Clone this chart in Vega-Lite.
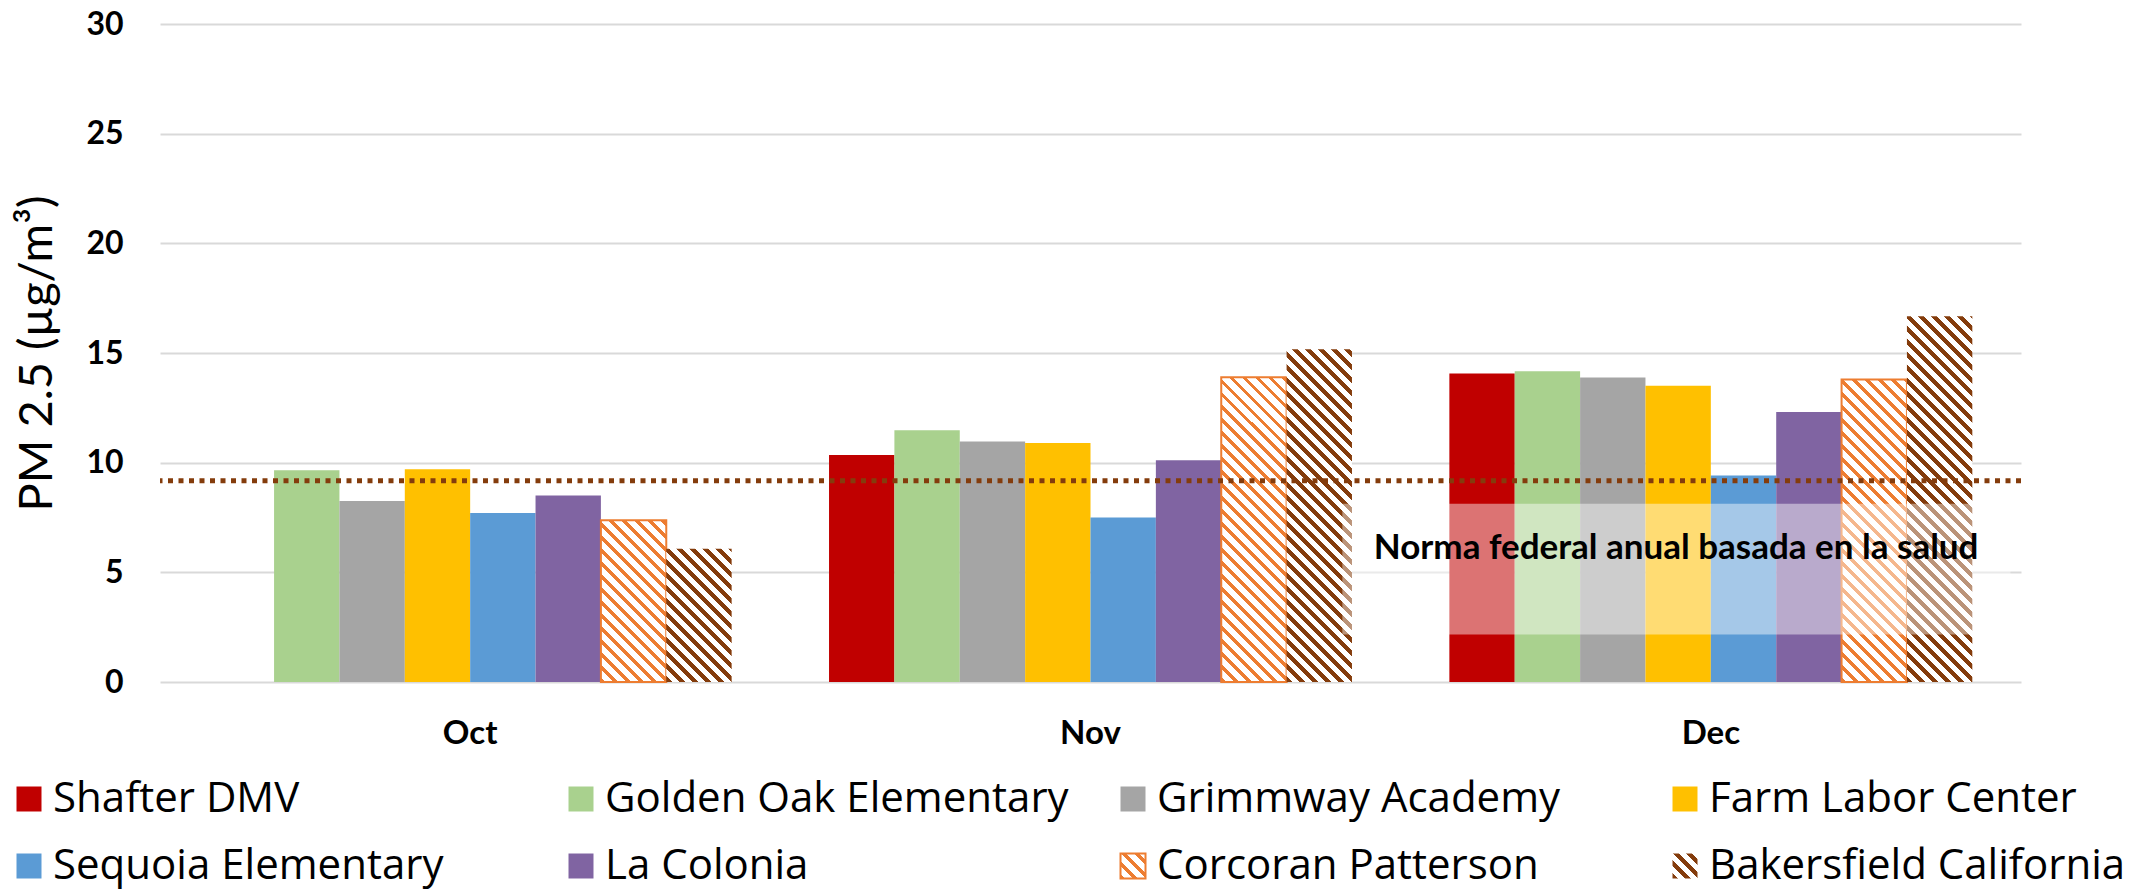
{
  "$schema": "https://vega.github.io/schema/vega-lite/v6.json",
  "width": 1861,
  "height": 658,
  "autosize": {"type": "none"},
  "padding": {"left": 160, "top": 24, "right": 120, "bottom": 209},
  "background": "white",
  "config": {
    "view": {"stroke": null},
    "font": "Lato",
    "legend": {"orient": "none", "legendX": -152, "legendY": 754, "direction": "horizontal", "columns": 4,
      "gridAlign": "all", "columnPadding": 43, "rowPadding": 25, "padding": 0,
      "symbolType": "square", "symbolSize": 625, "symbolStrokeWidth": 2, "symbolOpacity": 1,
      "labelFont": "Open Sans", "labelFontSize": 42, "labelColor": "black", "labelOffset": 3, "labelLimit": 700}
  },
  "params": [
    {"name": "orangeStops", "value": [
      {"offset":0,"color":"#ED7D31"},{"offset":0.01057,"color":"#ED7D31"},{"offset":0.01057,"color":"#fff"},
      {"offset":0.02857,"color":"#fff"},{"offset":0.02857,"color":"#ED7D31"},{"offset":0.03914,"color":"#ED7D31"},{"offset":0.03914,"color":"#fff"},
      {"offset":0.05714,"color":"#fff"},{"offset":0.05714,"color":"#ED7D31"},{"offset":0.06771,"color":"#ED7D31"},{"offset":0.06771,"color":"#fff"},
      {"offset":0.08571,"color":"#fff"},{"offset":0.08571,"color":"#ED7D31"},{"offset":0.09628,"color":"#ED7D31"},{"offset":0.09628,"color":"#fff"},
      {"offset":0.11429,"color":"#fff"},{"offset":0.11429,"color":"#ED7D31"},{"offset":0.12486,"color":"#ED7D31"},{"offset":0.12486,"color":"#fff"},
      {"offset":0.14286,"color":"#fff"},{"offset":0.14286,"color":"#ED7D31"},{"offset":0.15343,"color":"#ED7D31"},{"offset":0.15343,"color":"#fff"},
      {"offset":0.17143,"color":"#fff"},{"offset":0.17143,"color":"#ED7D31"},{"offset":0.182,"color":"#ED7D31"},{"offset":0.182,"color":"#fff"},
      {"offset":0.2,"color":"#fff"},{"offset":0.2,"color":"#ED7D31"},{"offset":0.21057,"color":"#ED7D31"},{"offset":0.21057,"color":"#fff"},
      {"offset":0.22857,"color":"#fff"},{"offset":0.22857,"color":"#ED7D31"},{"offset":0.23914,"color":"#ED7D31"},{"offset":0.23914,"color":"#fff"},
      {"offset":0.25714,"color":"#fff"},{"offset":0.25714,"color":"#ED7D31"},{"offset":0.26771,"color":"#ED7D31"},{"offset":0.26771,"color":"#fff"},
      {"offset":0.28571,"color":"#fff"},{"offset":0.28571,"color":"#ED7D31"},{"offset":0.29628,"color":"#ED7D31"},{"offset":0.29628,"color":"#fff"},
      {"offset":0.31429,"color":"#fff"},{"offset":0.31429,"color":"#ED7D31"},{"offset":0.32486,"color":"#ED7D31"},{"offset":0.32486,"color":"#fff"},
      {"offset":0.34286,"color":"#fff"},{"offset":0.34286,"color":"#ED7D31"},{"offset":0.35343,"color":"#ED7D31"},{"offset":0.35343,"color":"#fff"},
      {"offset":0.37143,"color":"#fff"},{"offset":0.37143,"color":"#ED7D31"},{"offset":0.382,"color":"#ED7D31"},{"offset":0.382,"color":"#fff"},
      {"offset":0.4,"color":"#fff"},{"offset":0.4,"color":"#ED7D31"},{"offset":0.41057,"color":"#ED7D31"},{"offset":0.41057,"color":"#fff"},
      {"offset":0.42857,"color":"#fff"},{"offset":0.42857,"color":"#ED7D31"},{"offset":0.43914,"color":"#ED7D31"},{"offset":0.43914,"color":"#fff"},
      {"offset":0.45714,"color":"#fff"},{"offset":0.45714,"color":"#ED7D31"},{"offset":0.46771,"color":"#ED7D31"},{"offset":0.46771,"color":"#fff"},
      {"offset":0.48571,"color":"#fff"},{"offset":0.48571,"color":"#ED7D31"},{"offset":0.49628,"color":"#ED7D31"},{"offset":0.49628,"color":"#fff"},
      {"offset":0.51429,"color":"#fff"},{"offset":0.51429,"color":"#ED7D31"},{"offset":0.52486,"color":"#ED7D31"},{"offset":0.52486,"color":"#fff"},
      {"offset":0.54286,"color":"#fff"},{"offset":0.54286,"color":"#ED7D31"},{"offset":0.55343,"color":"#ED7D31"},{"offset":0.55343,"color":"#fff"},
      {"offset":0.57143,"color":"#fff"},{"offset":0.57143,"color":"#ED7D31"},{"offset":0.582,"color":"#ED7D31"},{"offset":0.582,"color":"#fff"},
      {"offset":0.6,"color":"#fff"},{"offset":0.6,"color":"#ED7D31"},{"offset":0.61057,"color":"#ED7D31"},{"offset":0.61057,"color":"#fff"},
      {"offset":0.62857,"color":"#fff"},{"offset":0.62857,"color":"#ED7D31"},{"offset":0.63914,"color":"#ED7D31"},{"offset":0.63914,"color":"#fff"},
      {"offset":0.65714,"color":"#fff"},{"offset":0.65714,"color":"#ED7D31"},{"offset":0.66771,"color":"#ED7D31"},{"offset":0.66771,"color":"#fff"},
      {"offset":0.68571,"color":"#fff"},{"offset":0.68571,"color":"#ED7D31"},{"offset":0.69628,"color":"#ED7D31"},{"offset":0.69628,"color":"#fff"},
      {"offset":0.71429,"color":"#fff"},{"offset":0.71429,"color":"#ED7D31"},{"offset":0.72486,"color":"#ED7D31"},{"offset":0.72486,"color":"#fff"},
      {"offset":0.74286,"color":"#fff"},{"offset":0.74286,"color":"#ED7D31"},{"offset":0.75343,"color":"#ED7D31"},{"offset":0.75343,"color":"#fff"},
      {"offset":0.77143,"color":"#fff"},{"offset":0.77143,"color":"#ED7D31"},{"offset":0.782,"color":"#ED7D31"},{"offset":0.782,"color":"#fff"},
      {"offset":0.8,"color":"#fff"},{"offset":0.8,"color":"#ED7D31"},{"offset":0.81057,"color":"#ED7D31"},{"offset":0.81057,"color":"#fff"},
      {"offset":0.82857,"color":"#fff"},{"offset":0.82857,"color":"#ED7D31"},{"offset":0.83914,"color":"#ED7D31"},{"offset":0.83914,"color":"#fff"},
      {"offset":0.85714,"color":"#fff"},{"offset":0.85714,"color":"#ED7D31"},{"offset":0.86771,"color":"#ED7D31"},{"offset":0.86771,"color":"#fff"},
      {"offset":0.88571,"color":"#fff"},{"offset":0.88571,"color":"#ED7D31"},{"offset":0.89628,"color":"#ED7D31"},{"offset":0.89628,"color":"#fff"},
      {"offset":0.91429,"color":"#fff"},{"offset":0.91429,"color":"#ED7D31"},{"offset":0.92486,"color":"#ED7D31"},{"offset":0.92486,"color":"#fff"},
      {"offset":0.94286,"color":"#fff"},{"offset":0.94286,"color":"#ED7D31"},{"offset":0.95343,"color":"#ED7D31"},{"offset":0.95343,"color":"#fff"},
      {"offset":0.97143,"color":"#fff"},{"offset":0.97143,"color":"#ED7D31"},{"offset":0.982,"color":"#ED7D31"},{"offset":0.982,"color":"#fff"}
    ]},
    {"name": "brownStops", "value": [
      {"offset":0,"color":"#843C0C"},{"offset":0.01286,"color":"#843C0C"},{"offset":0.01286,"color":"#fff"},
      {"offset":0.02857,"color":"#fff"},{"offset":0.02857,"color":"#843C0C"},{"offset":0.04143,"color":"#843C0C"},{"offset":0.04143,"color":"#fff"},
      {"offset":0.05714,"color":"#fff"},{"offset":0.05714,"color":"#843C0C"},{"offset":0.07,"color":"#843C0C"},{"offset":0.07,"color":"#fff"},
      {"offset":0.08571,"color":"#fff"},{"offset":0.08571,"color":"#843C0C"},{"offset":0.09857,"color":"#843C0C"},{"offset":0.09857,"color":"#fff"},
      {"offset":0.11429,"color":"#fff"},{"offset":0.11429,"color":"#843C0C"},{"offset":0.12714,"color":"#843C0C"},{"offset":0.12714,"color":"#fff"},
      {"offset":0.14286,"color":"#fff"},{"offset":0.14286,"color":"#843C0C"},{"offset":0.15571,"color":"#843C0C"},{"offset":0.15571,"color":"#fff"},
      {"offset":0.17143,"color":"#fff"},{"offset":0.17143,"color":"#843C0C"},{"offset":0.18429,"color":"#843C0C"},{"offset":0.18429,"color":"#fff"},
      {"offset":0.2,"color":"#fff"},{"offset":0.2,"color":"#843C0C"},{"offset":0.21286,"color":"#843C0C"},{"offset":0.21286,"color":"#fff"},
      {"offset":0.22857,"color":"#fff"},{"offset":0.22857,"color":"#843C0C"},{"offset":0.24143,"color":"#843C0C"},{"offset":0.24143,"color":"#fff"},
      {"offset":0.25714,"color":"#fff"},{"offset":0.25714,"color":"#843C0C"},{"offset":0.27,"color":"#843C0C"},{"offset":0.27,"color":"#fff"},
      {"offset":0.28571,"color":"#fff"},{"offset":0.28571,"color":"#843C0C"},{"offset":0.29857,"color":"#843C0C"},{"offset":0.29857,"color":"#fff"},
      {"offset":0.31429,"color":"#fff"},{"offset":0.31429,"color":"#843C0C"},{"offset":0.32714,"color":"#843C0C"},{"offset":0.32714,"color":"#fff"},
      {"offset":0.34286,"color":"#fff"},{"offset":0.34286,"color":"#843C0C"},{"offset":0.35571,"color":"#843C0C"},{"offset":0.35571,"color":"#fff"},
      {"offset":0.37143,"color":"#fff"},{"offset":0.37143,"color":"#843C0C"},{"offset":0.38429,"color":"#843C0C"},{"offset":0.38429,"color":"#fff"},
      {"offset":0.4,"color":"#fff"},{"offset":0.4,"color":"#843C0C"},{"offset":0.41286,"color":"#843C0C"},{"offset":0.41286,"color":"#fff"},
      {"offset":0.42857,"color":"#fff"},{"offset":0.42857,"color":"#843C0C"},{"offset":0.44143,"color":"#843C0C"},{"offset":0.44143,"color":"#fff"},
      {"offset":0.45714,"color":"#fff"},{"offset":0.45714,"color":"#843C0C"},{"offset":0.47,"color":"#843C0C"},{"offset":0.47,"color":"#fff"},
      {"offset":0.48571,"color":"#fff"},{"offset":0.48571,"color":"#843C0C"},{"offset":0.49857,"color":"#843C0C"},{"offset":0.49857,"color":"#fff"},
      {"offset":0.51429,"color":"#fff"},{"offset":0.51429,"color":"#843C0C"},{"offset":0.52714,"color":"#843C0C"},{"offset":0.52714,"color":"#fff"},
      {"offset":0.54286,"color":"#fff"},{"offset":0.54286,"color":"#843C0C"},{"offset":0.55571,"color":"#843C0C"},{"offset":0.55571,"color":"#fff"},
      {"offset":0.57143,"color":"#fff"},{"offset":0.57143,"color":"#843C0C"},{"offset":0.58429,"color":"#843C0C"},{"offset":0.58429,"color":"#fff"},
      {"offset":0.6,"color":"#fff"},{"offset":0.6,"color":"#843C0C"},{"offset":0.61286,"color":"#843C0C"},{"offset":0.61286,"color":"#fff"},
      {"offset":0.62857,"color":"#fff"},{"offset":0.62857,"color":"#843C0C"},{"offset":0.64143,"color":"#843C0C"},{"offset":0.64143,"color":"#fff"},
      {"offset":0.65714,"color":"#fff"},{"offset":0.65714,"color":"#843C0C"},{"offset":0.67,"color":"#843C0C"},{"offset":0.67,"color":"#fff"},
      {"offset":0.68571,"color":"#fff"},{"offset":0.68571,"color":"#843C0C"},{"offset":0.69857,"color":"#843C0C"},{"offset":0.69857,"color":"#fff"},
      {"offset":0.71429,"color":"#fff"},{"offset":0.71429,"color":"#843C0C"},{"offset":0.72714,"color":"#843C0C"},{"offset":0.72714,"color":"#fff"},
      {"offset":0.74286,"color":"#fff"},{"offset":0.74286,"color":"#843C0C"},{"offset":0.75571,"color":"#843C0C"},{"offset":0.75571,"color":"#fff"},
      {"offset":0.77143,"color":"#fff"},{"offset":0.77143,"color":"#843C0C"},{"offset":0.78429,"color":"#843C0C"},{"offset":0.78429,"color":"#fff"},
      {"offset":0.8,"color":"#fff"},{"offset":0.8,"color":"#843C0C"},{"offset":0.81286,"color":"#843C0C"},{"offset":0.81286,"color":"#fff"},
      {"offset":0.82857,"color":"#fff"},{"offset":0.82857,"color":"#843C0C"},{"offset":0.84143,"color":"#843C0C"},{"offset":0.84143,"color":"#fff"},
      {"offset":0.85714,"color":"#fff"},{"offset":0.85714,"color":"#843C0C"},{"offset":0.87,"color":"#843C0C"},{"offset":0.87,"color":"#fff"},
      {"offset":0.88571,"color":"#fff"},{"offset":0.88571,"color":"#843C0C"},{"offset":0.89857,"color":"#843C0C"},{"offset":0.89857,"color":"#fff"},
      {"offset":0.91429,"color":"#fff"},{"offset":0.91429,"color":"#843C0C"},{"offset":0.92714,"color":"#843C0C"},{"offset":0.92714,"color":"#fff"},
      {"offset":0.94286,"color":"#fff"},{"offset":0.94286,"color":"#843C0C"},{"offset":0.95571,"color":"#843C0C"},{"offset":0.95571,"color":"#fff"},
      {"offset":0.97143,"color":"#fff"},{"offset":0.97143,"color":"#843C0C"},{"offset":0.98429,"color":"#843C0C"},{"offset":0.98429,"color":"#fff"}
    ]}
  ],
  "resolve": {"scale": {"x": "independent"}, "axis": {"x": "independent"}},
  "layer": [
    {
      "data": {"values": [
        {"month": "Oct", "site": "Golden Oak Elementary", "pm": 9.65},
        {"month": "Oct", "site": "Grimmway Academy", "pm": 8.25},
        {"month": "Oct", "site": "Farm Labor Center", "pm": 9.70},
        {"month": "Oct", "site": "Sequoia Elementary", "pm": 7.71},
        {"month": "Oct", "site": "La Colonia", "pm": 8.50},
        {"month": "Oct", "site": "Corcoran Patterson", "pm": 7.37},
        {"month": "Oct", "site": "Bakersfield California", "pm": 6.08},
        {"month": "Nov", "site": "Shafter DMV", "pm": 10.35},
        {"month": "Nov", "site": "Golden Oak Elementary", "pm": 11.48},
        {"month": "Nov", "site": "Grimmway Academy", "pm": 10.97},
        {"month": "Nov", "site": "Farm Labor Center", "pm": 10.90},
        {"month": "Nov", "site": "Sequoia Elementary", "pm": 7.50},
        {"month": "Nov", "site": "La Colonia", "pm": 10.11},
        {"month": "Nov", "site": "Corcoran Patterson", "pm": 13.89},
        {"month": "Nov", "site": "Bakersfield California", "pm": 15.17},
        {"month": "Dec", "site": "Shafter DMV", "pm": 14.06},
        {"month": "Dec", "site": "Golden Oak Elementary", "pm": 14.17},
        {"month": "Dec", "site": "Grimmway Academy", "pm": 13.88},
        {"month": "Dec", "site": "Farm Labor Center", "pm": 13.51},
        {"month": "Dec", "site": "Sequoia Elementary", "pm": 9.41},
        {"month": "Dec", "site": "La Colonia", "pm": 12.31},
        {"month": "Dec", "site": "Corcoran Patterson", "pm": 13.79},
        {"month": "Dec", "site": "Bakersfield California", "pm": 16.67}
      ]},
      "encoding": {
        "x": {"field": "month", "type": "nominal", "sort": ["Oct", "Nov", "Dec"],
          "scale": {"paddingInner": 0.157, "paddingOuter": 0.0785},
          "axis": {"title": null, "domain": false, "ticks": false, "tickSize": 0, "labelAngle": 0,
            "labelFont": "Lato", "labelFontWeight": "bold", "labelFontSize": 33, "labelColor": "black", "labelPadding": 35}},
        "xOffset": {"field": "site", "type": "nominal",
          "scale": {"domain": ["Shafter DMV", "Golden Oak Elementary", "Grimmway Academy", "Farm Labor Center", "Sequoia Elementary", "La Colonia", "Corcoran Patterson", "Bakersfield California"], "paddingInner": 0, "paddingOuter": 0}},
        "y": {"field": "pm", "type": "quantitative", "title": "PM 2.5 (µg/m³)",
          "scale": {"domain": [0, 30], "nice": false},
          "axis": {"values": [0, 5, 10, 15, 20, 25, 30], "domain": false, "ticks": false, "tickSize": 0,
            "grid": true, "gridColor": "#d9d9d9", "gridWidth": 2,
            "labelFont": "Lato", "labelFontWeight": "bold", "labelFontSize": 32, "labelColor": "black", "labelPadding": 37,
            "titleFont": "Lato", "titleFontWeight": "normal", "titleFontSize": 47, "titleColor": "black", "titlePadding": 24}}
      },
      "layer": [
        {
          "transform": [{"filter": "datum.site !== 'Corcoran Patterson' && datum.site !== 'Bakersfield California'"}],
          "mark": {"type": "bar"},
          "encoding": {
            "color": {"field": "site", "type": "nominal",
              "scale": {"domain": ["Shafter DMV", "Golden Oak Elementary", "Grimmway Academy", "Farm Labor Center", "Sequoia Elementary", "La Colonia", "Corcoran Patterson", "Bakersfield California"],
                "range": ["#C00000", "#A9D18E", "#A5A5A5", "#FFC000", "#5B9BD5", "#8064A2",
                  {"expr": "({gradient:'linear',x1:0,y1:1,x2:9.1,y2:-8.1,stops:orangeStops})"},
                  {"expr": "({gradient:'linear',x1:0,y1:1,x2:9.1,y2:-8.1,stops:brownStops})"}]},
              "legend": {"title": null}
            },
            "stroke": {"field": "site", "type": "nominal",
              "scale": {"domain": ["Shafter DMV", "Golden Oak Elementary", "Grimmway Academy", "Farm Labor Center", "Sequoia Elementary", "La Colonia", "Corcoran Patterson", "Bakersfield California"],
                "range": ["transparent", "transparent", "transparent", "transparent", "transparent", "transparent", "#ED7D31", "transparent"]},
              "legend": {"title": null}
            }
          }
        },
        {
          "transform": [{"filter": "datum.site === 'Corcoran Patterson' && datum.month === 'Oct'"}],
          "mark": {"type": "bar", "fill": {"expr": "({gradient:'linear',x1:0,y1:1,x2:0.97886,y2:-1.41964,stops:orangeStops})"}, "stroke": "#ED7D31", "strokeWidth": 2}
        },
        {
          "transform": [{"filter": "datum.site === 'Corcoran Patterson' && datum.month === 'Nov'"}],
          "mark": {"type": "bar", "fill": {"expr": "({gradient:'linear',x1:0,y1:1,x2:0.30629,y2:-0.42755,stops:orangeStops})"}, "stroke": "#ED7D31", "strokeWidth": 2}
        },
        {
          "transform": [{"filter": "datum.site === 'Corcoran Patterson' && datum.month === 'Dec'"}],
          "mark": {"type": "bar", "fill": {"expr": "({gradient:'linear',x1:0,y1:1,x2:0.31056,y2:-0.43703,stops:orangeStops})"}, "stroke": "#ED7D31", "strokeWidth": 2}
        },
        {
          "transform": [{"filter": "datum.site === 'Bakersfield California' && datum.month === 'Oct'"}],
          "mark": {"type": "bar", "fill": {"expr": "({gradient:'linear',x1:0,y1:1,x2:1.34782,y2:-1.75026,stops:brownStops})"}}
        },
        {
          "transform": [{"filter": "datum.site === 'Bakersfield California' && datum.month === 'Nov'"}],
          "mark": {"type": "bar", "fill": {"expr": "({gradient:'linear',x1:0,y1:1,x2:0.25874,y2:-0.31676,stops:brownStops})"}}
        },
        {
          "transform": [{"filter": "datum.site === 'Bakersfield California' && datum.month === 'Dec'"}],
          "mark": {"type": "bar", "fill": {"expr": "({gradient:'linear',x1:0,y1:1,x2:0.21565,y2:-0.20597,stops:brownStops})"}}
        }
      ]
    },
    {
      "data": {"values": [{"standard": "Norma federal anual basada en la salud"}]},
      "mark": {"type": "rule", "color": "#843C0C", "strokeWidth": 5, "strokeDash": [5, 5.5]},
      "encoding": {"y": {"datum": 9.17, "type": "quantitative", "title": "PM 2.5 (µg/m³)"}}
    },
    {
      "data": {"values": [{"standard": "Norma federal anual basada en la salud"}]},
      "layer": [
        {
          "mark": {"type": "rect", "fill": "white", "opacity": 0.45},
          "encoding": {
            "x": {"datum": 1.906, "type": "quantitative", "scale": {"domain": [0, 3], "nice": false, "zero": false}, "axis": null},
            "x2": {"datum": 2.983},
            "y": {"datum": 2.16, "type": "quantitative", "title": "PM 2.5 (µg/m³)"},
            "y2": {"datum": 8.13}
          }
        },
        {
          "mark": {"type": "text", "font": "Lato", "fontWeight": "bold", "fontSize": 35, "color": "black", "align": "center", "baseline": "alphabetic"},
          "encoding": {
            "x": {"datum": 2.444, "type": "quantitative", "scale": {"domain": [0, 3], "nice": false, "zero": false}, "axis": null},
            "y": {"datum": 5.59, "type": "quantitative", "title": "PM 2.5 (µg/m³)"},
            "text": {"field": "standard"}
          }
        }
      ]
    }
  ]
}
